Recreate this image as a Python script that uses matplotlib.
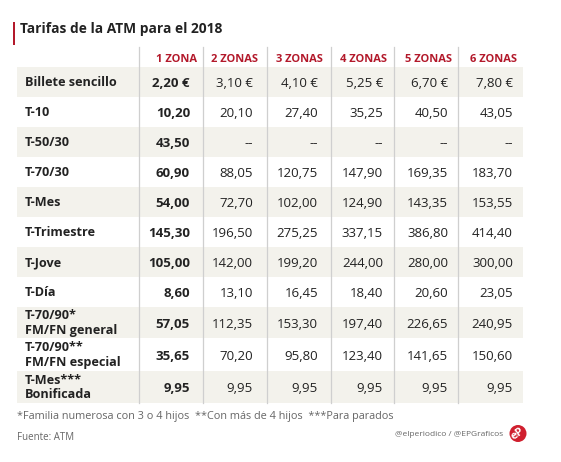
import matplotlib.pyplot as plt
from matplotlib.patches import Rectangle, Circle

plt.rcParams['font.family'] = ['Open Sans', 'DejaVu Sans']

title = 'Tarifas de la ATM para el 2018'
zones = ['1 ZONA', '2 ZONAS', '3 ZONAS', '4 ZONAS', '5 ZONAS', '6 ZONAS']
tickets = ['Billete sencillo', 'T-10', 'T-50/30', 'T-70/30', 'T-Mes', 'T-Trimestre',
           'T-Jove', 'T-Día', 'T-70/90*\nFM/FN general', 'T-70/90**\nFM/FN especial',
           'T-Mes***\nBonificada']
zone1 = [2.20, 10.20, 43.50, 60.90, 54.00, 145.30, 105.00, 8.60, 57.05, 35.65, 9.95]
zone2 = [3.10, 20.10, None, 88.05, 72.70, 196.50, 142.00, 13.10, 112.35, 70.20, 9.95]
zone3 = [4.10, 27.40, None, 120.75, 102.00, 275.25, 199.20, 16.45, 153.30, 95.80, 9.95]
zone4 = [5.25, 35.25, None, 147.90, 124.90, 337.15, 244.00, 18.40, 197.40, 123.40, 9.95]
zone5 = [6.70, 40.50, None, 169.35, 143.35, 386.80, 280.00, 20.60, 226.65, 141.65, 9.95]
zone6 = [7.80, 43.05, None, 183.70, 153.55, 414.40, 300.00, 23.05, 240.95, 150.60, 9.95]
footnote = '*Familia numerosa con 3 o 4 hijos  **Con más de 4 hijos  ***Para parados'
source = 'Fuente: ATM'
credit = '@elperiodico / @EPGraficos'

RED = '#b3192b'
SHADE = '#f3f2ec'
TEXT = '#222222'
GRAY = '#666666'

# layout in pixels
col_edges = [139, 203, 267, 331, 394, 458, 523]
value_right = [190, 253, 318, 383, 448, 513]
header_right = [197, 258, 323, 387, 452, 517]
row_edges = [67, 97, 127, 157, 187, 217, 247, 277, 307, 338, 371, 403]
left = 17

fig = plt.figure(figsize=(5.61, 4.62), dpi=100)
ax = fig.add_axes([0, 0, 1, 1])
ax.set_xlim(0, 561)
ax.set_ylim(462, 0)
ax.axis('off')

# title
ax.add_patch(Rectangle((13, 22), 2.5, 23, color=RED, lw=0))
ax.text(20, 28.5, title, fontsize=9.9, fontweight='bold', color=TEXT, va='center')

# row shading
for i in range(len(tickets)):
    if i % 2 == 0:
        ax.add_patch(Rectangle((left, row_edges[i]), col_edges[-1] - left,
                               row_edges[i + 1] - row_edges[i], color=SHADE, lw=0))

# vertical dividers
for x in col_edges[:-1]:
    ax.plot([x, x], [47, row_edges[-1]], color='#cfcfcf', lw=0.9)

# headers
for j, z in enumerate(zones):
    ax.text(header_right[j], 59, z, fontsize=8.0, fontweight='bold', color=RED,
            ha='right', va='center')


def fmt(v, euro):
    if v is None:
        return '--'
    s = f'{v:.2f}'.replace('.', ',')
    return s + ' €' if euro else s


columns = [zone1, zone2, zone3, zone4, zone5, zone6]
for i, t in enumerate(tickets):
    cy = (row_edges[i] + row_edges[i + 1]) / 2 + 0.5
    ax.text(25, cy, t, fontsize=9.1, fontweight='bold', color=TEXT, va='center',
            linespacing=1.2)
    for j, col in enumerate(columns):
        ax.text(value_right[j], cy + 1, fmt(col[i], i == 0), fontsize=9.5,
                fontweight='bold' if j == 0 else 'normal', color=TEXT,
                ha='right', va='center')

# footer
ax.text(left, 416, footnote, fontsize=7.8, color=GRAY, va='center')
ax.text(left, 437.5, source, fontsize=7.0, color=GRAY, va='center')
ax.text(503, 435, credit, fontsize=6.0, color=GRAY, va='center', ha='right')
ax.add_patch(Circle((518, 433.5), 8.5, color='#d01f2e', lw=0))
ax.text(518, 434, 'eP', fontsize=8, fontweight='bold', color='white',
        ha='center', va='center', rotation=35)

fig.savefig('out.png', dpi=100)
